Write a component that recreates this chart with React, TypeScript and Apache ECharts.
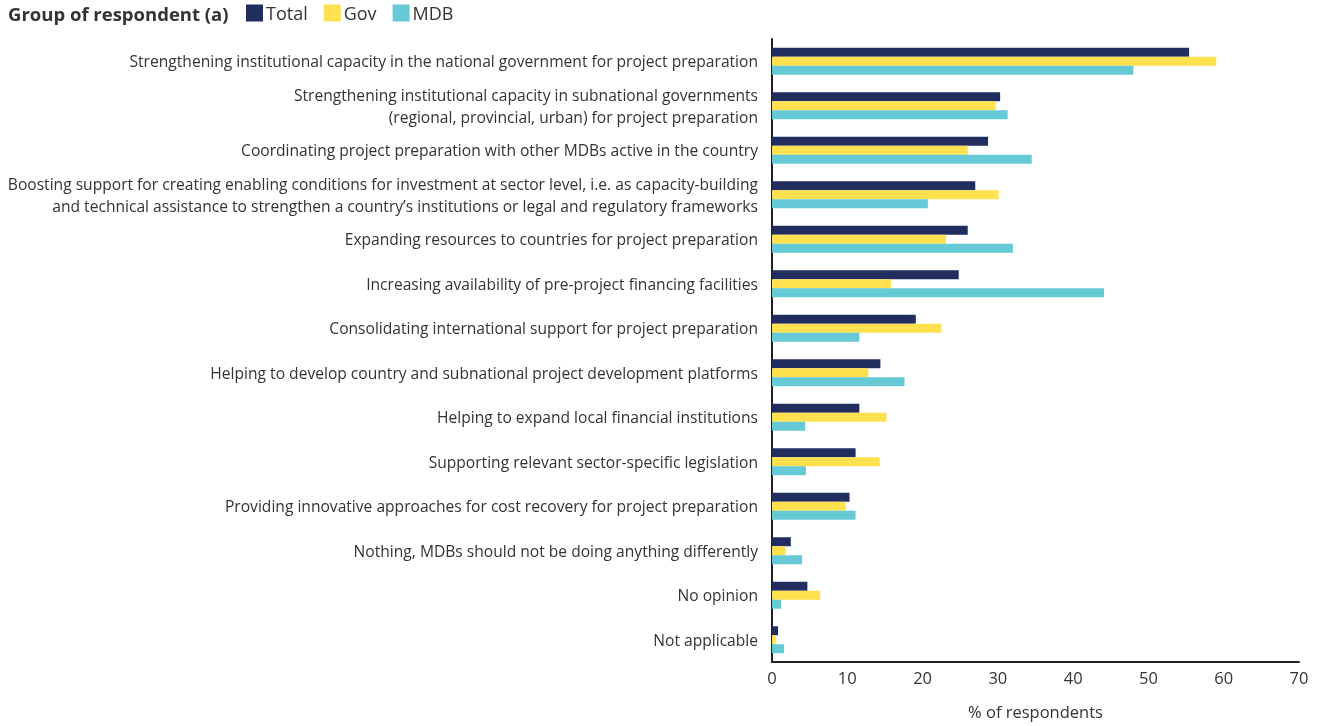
import React, { useEffect, useRef } from "react";
import * as echarts from "echarts";

const categories = [
  "Strengthening institutional capacity in the national government for project preparation",
  "Strengthening institutional capacity in subnational governments\n(regional, provincial, urban) for project preparation",
  "Coordinating project preparation with other MDBs active in the country",
  "Boosting support for creating enabling conditions for investment at sector level, i.e. as capacity-building\nand technical assistance to strengthen a country’s institutions or legal and regulatory frameworks",
  "Expanding resources to countries for project preparation",
  "Increasing availability of pre-project financing facilities",
  "Consolidating international support for project preparation",
  "Helping to develop country and subnational project development platforms",
  "Helping to expand local financial institutions",
  "Supporting relevant sector-specific legislation",
  "Providing innovative approaches for cost recovery for project preparation",
  "Nothing, MDBs should not be doing anything differently",
  "No opinion",
  "Not applicable",
];

const totalValues = [55.4, 30.3, 28.7, 27.0, 26.0, 24.8, 19.1, 14.4, 11.6, 11.1, 10.3, 2.5, 4.7, 0.8];
const govValues = [59.0, 29.7, 26.0, 30.1, 23.1, 15.8, 22.5, 12.8, 15.2, 14.3, 9.8, 1.8, 6.4, 0.5];
const mdbValues = [48.0, 31.3, 34.5, 20.7, 32.0, 44.1, 11.6, 17.6, 4.4, 4.5, 11.1, 4.0, 1.2, 1.6];

const xTicks = { min: 0, max: 70, interval: 10 };
const seriesNames = ["Total", "Gov", "MDB"];
const colors = ["#222d5f", "#ffe04f", "#66cad6"];

const FONT = "'Open Sans', sans-serif";

export default function App() {
  const ref = useRef<HTMLDivElement>(null);
  useEffect(() => {
    if (!ref.current) return;
    const chart = echarts.init(ref.current, undefined, { renderer: "svg" });
    const data = [totalValues, govValues, mdbValues];
    chart.setOption({
      animation: false,
      textStyle: { fontFamily: FONT },
      graphic: [
        {
          type: "text",
          left: 8,
          top: 4,
          style: {
            text: "Group of respondent (a)",
            fontSize: 18.5,
            fontWeight: "bold",
            fontFamily: FONT,
            fill: "#333333",
          },
        },
      ],
      legend: {
        left: 246,
        top: 4,
        padding: 0,
        itemWidth: 17,
        itemHeight: 17,
        itemGap: 16,
        icon: "rect",
        data: seriesNames,
        textStyle: { fontSize: 18, color: "#333333", fontFamily: FONT, padding: [0, 0, 0, -2] },
      },
      grid: { left: 772, right: 23, top: 39, bottom: 64, containLabel: false },
      xAxis: {
        type: "value",
        min: xTicks.min,
        max: xTicks.max,
        interval: xTicks.interval,
        splitLine: { show: false },
        axisTick: { show: false },
        axisLine: { show: true, lineStyle: { color: "#231f20", width: 2 } },
        axisLabel: { fontSize: 16.5, color: "#333333", margin: 7, fontFamily: FONT },
        name: "% of respondents",
        nameLocation: "middle",
        nameGap: 41,
        nameTextStyle: { fontSize: 16.5, color: "#333333", fontFamily: FONT },
      },
      yAxis: {
        type: "category",
        inverse: true,
        data: categories,
        axisTick: { show: false },
        axisLine: { show: true, lineStyle: { color: "#231f20", width: 2 } },
        axisLabel: {
          fontSize: 15.6,
          color: "#333333",
          margin: 14,
          lineHeight: 22,
          fontFamily: FONT,
        },
      },
      series: seriesNames.map((name, i) => ({
        name,
        type: "bar",
        data: data[i],
        barWidth: 9,
        barGap: "0%",
        itemStyle: { color: colors[i] },
      })),
    });
    return () => chart.dispose();
  }, []);
  return (
    <div
      ref={ref}
      style={{ position: "fixed", left: 0, top: 0, width: 1322, height: 726 }}
    />
  );
}
